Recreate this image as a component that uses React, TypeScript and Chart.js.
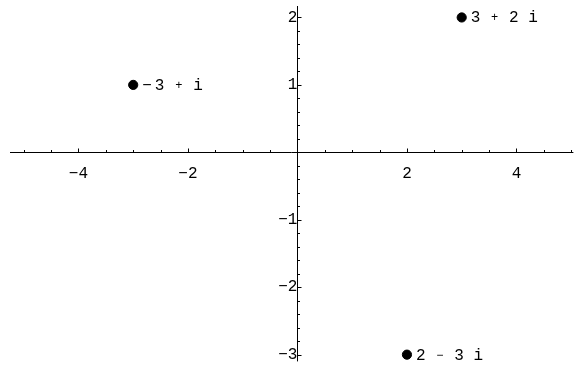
import React, { useEffect, useRef } from "react";
import { Chart, registerables } from "chart.js";

Chart.register(...registerables);

// ---- data ----
const POINT_X = [3, -3, 2];
const POINT_Y = [2, 1, -3];
const POINT_LABELS = ["3 + 2 i", "−3 + i", "2 − 3 i"];

const X_TICKS = [-5, -4.5, -4, -3.5, -3, -2.5, -2, -1.5, -1, -0.5, 0.5, 1, 1.5, 2, 2.5, 3, 3.5, 4, 4.5, 5];
const X_LABELS = [-4, -2, 2, 4];
const Y_TICKS = [
  -3, -2.8, -2.6, -2.4, -2.2, -2, -1.8, -1.6, -1.4, -1.2, -1, -0.8, -0.6, -0.4, -0.2,
  0.2, 0.4, 0.6, 0.8, 1, 1.2, 1.4, 1.6, 1.8, 2,
];
const Y_LABELS = [-3, -2, -1, 1, 2];

const X_MIN = -5.25;
const X_MAX = 5.04;
const Y_MIN = -3.1;
const Y_MAX = 2.17;

const FONT = "'Liberation Mono', 'Courier New', monospace";

const fmt = (v: number) => (v < 0 ? "\u2212" + Math.abs(v) : String(v));

const overlay = {
  id: "overlay",
  afterDraw(chart: any) {
    const { ctx, chartArea, scales } = chart;
    const xs = scales.x;
    const ys = scales.y;
    const x0 = Math.round(xs.getPixelForValue(0)) + 0.5;
    const y0 = Math.round(ys.getPixelForValue(0)) + 0.5;
    ctx.save();
    ctx.strokeStyle = "#000";
    ctx.lineWidth = 1;
    ctx.beginPath();
    ctx.moveTo(chartArea.left, y0);
    ctx.lineTo(chartArea.right, y0);
    ctx.moveTo(x0, chartArea.top);
    ctx.lineTo(x0, chartArea.bottom);
    xs.ticks.forEach((t: any) => {
      const px = Math.round(xs.getPixelForValue(t.value)) + 0.5;
      const len = X_LABELS.includes(t.value) ? 4 : 2.5;
      ctx.moveTo(px, y0);
      ctx.lineTo(px, y0 - len);
    });
    ys.ticks.forEach((t: any) => {
      const py = Math.round(ys.getPixelForValue(t.value)) + 0.5;
      const len = Y_LABELS.includes(t.value) ? 4 : 2.5;
      ctx.moveTo(x0, py);
      ctx.lineTo(x0 + len, py);
    });
    ctx.stroke();

    // point labels
    const meta = chart.getDatasetMeta(0);
    ctx.fillStyle = "#000";
    ctx.textBaseline = "alphabetic";
    ctx.textAlign = "center";
    ctx.font = `16px ${FONT}`;
    const cw = ctx.measureText("0").width;
    meta.data.forEach((el: any, i: number) => {
      const label = POINT_LABELS[i];
      const chars = Array.from(label);
      let cx = el.x + 9;
      const base = el.y + 5;
      chars.forEach((c, k) => {
        const isOp = c === "+" || c === "\u2212";
        const binaryOp = isOp && chars[k - 1] === " " && chars[k + 1] === " ";
        ctx.font = binaryOp ? `12px ${FONT}` : `16px ${FONT}`;
        ctx.fillText(c, cx + cw / 2, binaryOp ? base - 1 : base);
        cx += cw;
        if (isOp && !binaryOp) cx += 3;
      });
    });
    ctx.restore();
  },
};

export default function App() {
  const ref = useRef<HTMLCanvasElement | null>(null);
  useEffect(() => {
    if (!ref.current) return;
    const zeroPad = (s: any) => {
      s.paddingTop = 0;
      s.paddingBottom = 0;
      s.paddingLeft = 0;
      s.paddingRight = 0;
    };
    const chart = new Chart(ref.current, {
      type: "scatter",
      data: {
        datasets: [
          {
            data: POINT_X.map((x, i) => ({ x, y: POINT_Y[i] })),
            backgroundColor: "#000",
            borderColor: "#000",
            pointRadius: 4.6,
            pointHoverRadius: 4.6,
          },
        ],
      },
      plugins: [overlay],
      options: {
        responsive: false,
        animation: false,
        events: [],
        layout: { padding: { left: 10, right: 0, top: 6, bottom: 0 } },
        plugins: { legend: { display: false }, tooltip: { enabled: false } },
        scales: {
          x: {
            type: "linear",
            min: X_MIN,
            max: X_MAX,
            position: { y: 0 } as any,
            afterBuildTicks: (s: any) => {
              s.ticks = X_TICKS.map((v) => ({ value: v }));
            },
            afterFit: zeroPad,
            grid: { display: true, drawOnChartArea: false, drawTicks: false, color: "rgba(0,0,0,0)" },
            border: { display: false },
            ticks: {
              autoSkip: false,
              maxRotation: 0,
              padding: 12,
              color: "#000",
              font: { family: FONT, size: 16 },
              callback: (v: any) => (X_LABELS.includes(v) ? fmt(v) : ""),
            },
          },
          y: {
            type: "linear",
            min: Y_MIN,
            max: Y_MAX,
            position: { x: 0 } as any,
            afterBuildTicks: (s: any) => {
              s.ticks = Y_TICKS.map((v) => ({ value: v }));
            },
            afterFit: zeroPad,
            grid: { display: true, drawOnChartArea: false, drawTicks: false, color: "rgba(0,0,0,0)" },
            border: { display: false },
            ticks: {
              autoSkip: false,
              padding: 9,
              color: "#000",
              font: { family: FONT, size: 16 },
              callback: (v: any) => (Y_LABELS.includes(v) ? fmt(v) : ""),
            },
          },
        },
      },
    });
    return () => chart.destroy();
  }, []);
  return (
    <div style={{ position: "fixed", left: 0, top: 0, width: 579, height: 367, background: "#fff" }}>
      <canvas ref={ref} width={579} height={367} style={{ display: "block" }} />
    </div>
  );
}
